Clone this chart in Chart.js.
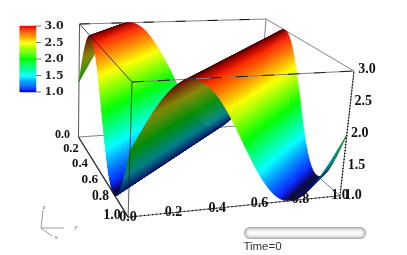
<!DOCTYPE html>
<html>
<head>
<meta charset="utf-8">
<style>
  html, body { margin: 0; padding: 0; background: #fff; }
  canvas { display: block; }
</style>
<script src="https://cdn.jsdelivr.net/npm/chart.js@4"></script>
</head>
<body>
<canvas id="chart" width="407" height="255"></canvas>
<script>
// height of the surface along x+y, read every 1/160 from 0 to 2
const waveHeights = [
  2.000, 2.039, 2.079, 2.118, 2.156, 2.195, 2.233, 2.271, 2.309, 2.346, 2.383, 2.419, 2.454, 2.489, 2.523, 2.556, 2.588, 2.619, 2.649, 2.679,
  2.707, 2.734, 2.760, 2.785, 2.809, 2.832, 2.853, 2.873, 2.891, 2.908, 2.924, 2.938, 2.951, 2.963, 2.972, 2.981, 2.988, 2.993, 2.997, 2.999,
  3.000, 2.999, 2.997, 2.993, 2.988, 2.981, 2.972, 2.963, 2.951, 2.938, 2.924, 2.908, 2.891, 2.873, 2.853, 2.832, 2.809, 2.785, 2.760, 2.734,
  2.707, 2.679, 2.649, 2.619, 2.588, 2.556, 2.523, 2.489, 2.454, 2.419, 2.383, 2.346, 2.309, 2.271, 2.233, 2.195, 2.156, 2.118, 2.079, 2.039,
  2.000, 1.961, 1.921, 1.882, 1.844, 1.805, 1.767, 1.729, 1.691, 1.654, 1.617, 1.581, 1.546, 1.511, 1.477, 1.444, 1.412, 1.381, 1.351, 1.321,
  1.293, 1.266, 1.240, 1.215, 1.191, 1.168, 1.147, 1.127, 1.109, 1.092, 1.076, 1.062, 1.049, 1.037, 1.028, 1.019, 1.012, 1.007, 1.003, 1.001,
  1.000, 1.001, 1.003, 1.007, 1.012, 1.019, 1.028, 1.037, 1.049, 1.062, 1.076, 1.092, 1.109, 1.127, 1.147, 1.168, 1.191, 1.215, 1.240, 1.266,
  1.293, 1.321, 1.351, 1.381, 1.412, 1.444, 1.477, 1.511, 1.546, 1.581, 1.617, 1.654, 1.691, 1.729, 1.767, 1.805, 1.844, 1.882, 1.921, 1.961,
  2.000, 2.039, 2.079, 2.118, 2.156, 2.195, 2.233, 2.271, 2.309, 2.346, 2.383, 2.419, 2.454, 2.489, 2.523, 2.556, 2.588, 2.619, 2.649, 2.679,
  2.707, 2.734, 2.760, 2.785, 2.809, 2.832, 2.853, 2.873, 2.891, 2.908, 2.924, 2.938, 2.951, 2.963, 2.972, 2.981, 2.988, 2.993, 2.997, 2.999,
  3.000, 2.999, 2.997, 2.993, 2.988, 2.981, 2.972, 2.963, 2.951, 2.938, 2.924, 2.908, 2.891, 2.873, 2.853, 2.832, 2.809, 2.785, 2.760, 2.734,
  2.707, 2.679, 2.649, 2.619, 2.588, 2.556, 2.523, 2.489, 2.454, 2.419, 2.383, 2.346, 2.309, 2.271, 2.233, 2.195, 2.156, 2.118, 2.079, 2.039,
  2.000, 1.961, 1.921, 1.882, 1.844, 1.805, 1.767, 1.729, 1.691, 1.654, 1.617, 1.581, 1.546, 1.511, 1.477, 1.444, 1.412, 1.381, 1.351, 1.321,
  1.293, 1.266, 1.240, 1.215, 1.191, 1.168, 1.147, 1.127, 1.109, 1.092, 1.076, 1.062, 1.049, 1.037, 1.028, 1.019, 1.012, 1.007, 1.003, 1.001,
  1.000, 1.001, 1.003, 1.007, 1.012, 1.019, 1.028, 1.037, 1.049, 1.062, 1.076, 1.092, 1.109, 1.127, 1.147, 1.168, 1.191, 1.215, 1.240, 1.266,
  1.293, 1.321, 1.351, 1.381, 1.412, 1.444, 1.477, 1.511, 1.546, 1.581, 1.617, 1.654, 1.691, 1.729, 1.767, 1.805, 1.844, 1.882, 1.921, 1.961,
  2.000
];
const xTicks = [0, 0.2, 0.4, 0.6, 0.8, 1];
const yTicks = [0, 0.2, 0.4, 0.6, 0.8, 1];
const zTicks = [1, 1.5, 2, 2.5, 3];
const barTicks = [3, 2.5, 2, 1.5, 1];
const timeLabel = 'Time=0';

// box corners on screen: top face first, then the floor corners used for the depth
const top00 = [79.5, 24], top10 = [266, 19], top01 = [132, 82], top11 = [354, 71];
const floor00 = [78.5, 137], floor11 = [340, 198];

// perspective from the corners
const dxa = top10[0] - top11[0], dxb = top01[0] - top11[0], rx = top11[0] + top00[0] - top10[0] - top01[0];
const dya = top10[1] - top11[1], dyb = top01[1] - top11[1], ry = top11[1] + top00[1] - top10[1] - top01[1];
const det = dxa * dyb - dxb * dya;
const pa = (rx * dyb - dxb * ry) / det;
const pb = (dxa * ry - rx * dya) / det;
const pc = ((floor11[0] - top11[0]) * (1 + pa + pb) + top00[0] - floor00[0]) / (floor00[0] - floor11[0]);

function project(x, y, z) {
  const t = (3 - z) / 2;
  const w = 1 + pa * x + pb * y + pc * t;
  const out = [0, 1].map(i => {
    const A = top10[i] * (1 + pa) - top00[i];
    const B = top01[i] * (1 + pb) - top00[i];
    const C = floor00[i] * (1 + pc) - top00[i];
    return (top00[i] + A * x + B * y + C * t) / w;
  });
  return { x: out[0], y: out[1] };
}

// colour table of the plot
const stops = [[0, 0, 255], [0, 255, 255], [0, 255, 0], [255, 255, 0], [255, 0, 0]];
function colorFor(z, light) {
  const p = Math.min(3.999, Math.max(0, (z - 1) * 2));
  const i = Math.floor(p), f = p - i;
  const c = stops[i].map((v, n) => Math.round((v + (stops[i + 1][n] - v) * f) * light));
  return `rgb(${c[0]},${c[1]},${c[2]})`;
}

const datasets = [];
function addLine(points, color, width, extra) {
  datasets.push(Object.assign({
    data: points, showLine: true, borderColor: color, borderWidth: width,
    pointRadius: 0, fill: false, clip: false
  }, extra || {}));
}

// edges behind the surface
const grey = '#808080';
addLine([project(0, 0, 1), project(1, 0, 1)], grey, 1);
addLine([project(1, 0, 1), project(1, 1, 1)], grey, 1);
addLine([project(0, 0, 1), project(0, 0, 3)], '#555', 1);
addLine([project(1, 0, 1), project(1, 0, 3)], grey, 1);
addLine([project(0, 0, 3), project(1, 0, 3)], grey, 1);
addLine([project(0, 0, 3), project(1, 0, 3)], '#111', 1, { borderDash: [10, 22] });
addLine([project(1, 0, 3), project(1, 1, 3)], grey, 1);

// surface, one strip per x+y step, far to near
function isoEnds(s) {
  if (s <= 1) return [[s, 0], [0, s]];
  return [[1, s - 1], [s - 1, 1]];
}
for (let k = 0; k < waveHeights.length - 1; k++) {
  const z0 = waveHeights[k], z1 = waveHeights[k + 1];
  const a = isoEnds(k / 160), b = isoEnds((k + 1) / 160);
  const fall = (z0 - z1) / 0.0393;
  const base = 0.08 + 0.4 * (z0 - 1) / 2;
  const light = fall > 0 ? Math.min(1, base + (1 - base) * fall / 0.4) : 0.28 + 0.27 * (-fall);
  const color = colorFor((z0 + z1) / 2, light);
  addLine([
    project(a[0][0], a[0][1], z0), project(a[1][0], a[1][1], z0),
    project(b[1][0], b[1][1], z1), project(b[0][0], b[0][1], z1),
    project(a[0][0], a[0][1], z0)
  ], color, 0.6, { fill: 'shape', backgroundColor: color });
}

// edges in front of the surface
addLine([project(0, 0, 3), project(0, 1, 3)], 'rgba(30,30,30,0.85)', 1);
addLine([project(0, 1, 1), project(0, 1, 3)], 'rgba(20,20,20,0.7)', 1);
addLine([project(0, 1, 3), project(1, 1, 3)], '#808080', 1);
addLine([project(0, 1, 3), project(1, 1, 3)], 'rgba(0,0,0,0.75)', 1, { borderDash: [12, 14] });
addLine([project(0, 1, 1), project(0, 0, 1)], '#222', 1.3);
addLine([project(0, 1, 1), project(1, 1, 1)], '#666', 1);
addLine([project(0, 1, 1), project(1, 1, 1)], '#000', 1.2, { borderDash: [1, 3] });
addLine([project(1, 1, 1), project(1, 1, 3)], '#777', 1);
addLine([project(1, 1, 1), project(1, 1, 3)], '#000', 1.4, { borderDash: [1, 2] });

// legend bar
const barLeft = 20, barRight = 36, barTop = 26, barBottom = 92;
const barY = v => barBottom - (v - 1) / 2 * (barBottom - barTop);
for (let i = 0; i < 60; i++) {
  const v0 = 1 + i / 30, v1 = 1 + (i + 1) / 30;
  const color = colorFor((v0 + v1) / 2, 1);
  addLine([
    { x: barLeft, y: barY(v0) }, { x: barRight, y: barY(v0) },
    { x: barRight, y: barY(v1) }, { x: barLeft, y: barY(v1) }, { x: barLeft, y: barY(v0) }
  ], color, 0.5, { fill: 'shape', backgroundColor: color });
}
barTicks.forEach(v => addLine([{ x: barRight, y: barY(v) }, { x: barRight + 5, y: barY(v) }], '#777', 1));

// orientation triad
addLine([{ x: 41, y: 228 }, { x: 43, y: 210 }], '#999', 1);
addLine([{ x: 41, y: 228 }, { x: 64, y: 228 }], '#999', 1);
addLine([{ x: 41, y: 228 }, { x: 52, y: 236 }], '#999', 1);

// time slider, stacked strokes give the rounded shading
[['#a8a8a8', 12], ['#c4c4c4', 10.5], ['#dcdcdc', 8.5], ['#efefef', 6], ['#fbfbfb', 3]].forEach(s => {
  addLine([{ x: 250, y: 233 }, { x: 360, y: 233 }], s[0], s[1], { borderCapStyle: 'round' });
});

// first dataset is painted last, so flip the order
datasets.forEach((d, i) => { d.order = datasets.length - i; });

const labels = [];
const tickFont = 'bold 14px "Liberation Serif"';
xTicks.forEach(v => { const p = project(v, 1, 1); labels.push([v.toFixed(1), p.x, p.y, tickFont, '#111']); });
yTicks.forEach(v => {
  const p = project(0, v, 1);
  labels.push([v.toFixed(1), p.x - 16, p.y - 2, `bold ${12 + 2 * v}px "Liberation Serif"`, '#111']);
});
zTicks.forEach(v => { const p = project(1, 1, v); labels.push([v.toFixed(1), p.x + 13, p.y - 2 + (3 - v), tickFont, '#111']); });
barTicks.forEach(v => labels.push([v.toFixed(1), 54, barY(v) + 0.5, 'bold 11px "DejaVu Serif"', '#222']));
labels.push(['z', 44, 207, 'italic 7px "Liberation Serif"', '#666']);
labels.push(['y', 76, 227, 'italic 7px "Liberation Serif"', '#666']);
labels.push(['x', 56, 237, 'italic 7px "Liberation Serif"', '#666']);
labels.push([timeLabel, 262.5, 247, '11.5px "Liberation Sans"', '#333']);

const textPlugin = {
  id: 'plotText',
  afterDatasetsDraw(chart) {
    const { ctx, scales } = chart;
    ctx.save();
    ctx.textAlign = 'center';
    ctx.textBaseline = 'middle';
    labels.forEach(l => {
      ctx.font = l[3];
      ctx.fillStyle = l[4];
      ctx.fillText(l[0], scales.x.getPixelForValue(l[1]), scales.y.getPixelForValue(l[2]));
    });
    ctx.restore();
  }
};

new Chart(document.getElementById('chart'), {
  type: 'scatter',
  data: { datasets: datasets },
  plugins: [textPlugin],
  options: {
    responsive: false,
    animation: false,
    events: [],
    layout: { padding: 0 },
    plugins: { legend: { display: false }, tooltip: { enabled: false }, title: { display: false } },
    scales: {
      x: { type: 'linear', display: false, min: 0, max: 407 },
      y: { type: 'linear', display: false, min: 0, max: 255, reverse: true }
    }
  }
});
</script>
</body>
</html>
